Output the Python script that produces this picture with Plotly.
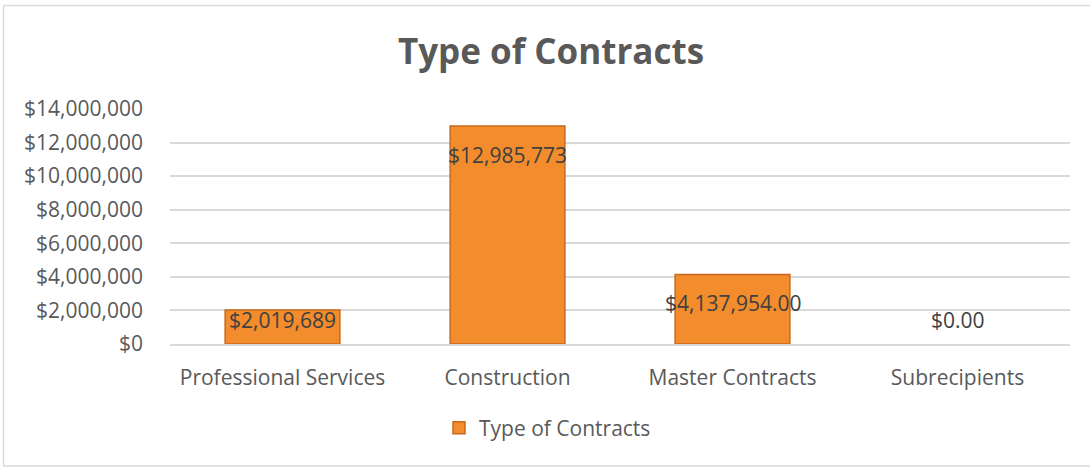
import plotly.graph_objects as go

categories = ["Professional Services", "Construction", "Master Contracts", "Subrecipients"]
values = [2019689, 12985773, 4137954, 0]
value_labels = ["$2,019,689", "$12,985,773", "$4,137,954.00", "$0.00"]
series_name = "Type of Contracts"
tick_vals = [0, 2000000, 4000000, 6000000, 8000000, 10000000, 12000000, 14000000]
tick_text = ["$0", "$2,000,000", "$4,000,000", "$6,000,000", "$8,000,000",
             "$10,000,000", "$12,000,000", "$14,000,000"]

FONT = "Open Sans"
W, H = 1090, 468
ML, MR, MT, MB = 170, 20, 109, 124
PW, PH = W - ML - MR, H - MT - MB

edge_colors = ["#C8691C" if v > 0 else "rgba(0,0,0,0)" for v in values]

fig = go.Figure()
fig.add_trace(go.Bar(
    x=categories, y=values, name=series_name,
    marker=dict(color="#F28C2C", line=dict(color=edge_colors, width=1.5)),
    showlegend=True,
))

label_shifts = [-10, -29, -28, 24]
for cat, v, lab, s in zip(categories, values, value_labels, label_shifts):
    fig.add_annotation(x=cat, y=v, text=lab, showarrow=False, yanchor="middle",
                       yshift=s, font=dict(family=FONT, size=21, color="#404040"))


def px_x(px):
    return (px - ML) / PW


def px_y(py):
    return (H - MB - py) / PH


# chart border: left, top and bottom edges only
border = dict(color="#D9D9D9", width=1.5)
fig.add_shape(type="line", xref="paper", yref="paper", layer="below",
              x0=px_x(3.5), x1=px_x(3.5), y0=px_y(466), y1=px_y(5.5), line=border)
fig.add_shape(type="line", xref="paper", yref="paper", layer="below",
              x0=px_x(3.5), x1=px_x(1095), y0=px_y(5.5), y1=px_y(5.5), line=border)
fig.add_shape(type="line", xref="paper", yref="paper", layer="below",
              x0=px_x(3.5), x1=px_x(1095), y0=px_y(466), y1=px_y(466), line=border)

fig.update_layout(
    width=W, height=H,
    margin=dict(l=ML, r=MR, t=MT, b=MB),
    paper_bgcolor="white", plot_bgcolor="white",
    bargap=0.49,
    title=dict(text="<b>Type of Contracts</b>", x=551 / W, xanchor="center",
               y=1 - 52 / H, yanchor="middle", yref="container",
               font=dict(family=FONT, size=35, color="#595959")),
    legend=dict(orientation="h", x=px_x(439), xanchor="left",
                y=px_y(428), yanchor="middle",
                font=dict(family=FONT, size=21, color="#595959")),
    xaxis=dict(showgrid=False, showline=True, linecolor="#D9D9D9", linewidth=1.5,
               tickfont=dict(family=FONT, size=21, color="#595959"),
               ticklabelstandoff=14),
    yaxis=dict(range=[0, 14000000], tickvals=tick_vals, ticktext=tick_text,
               showgrid=True, gridcolor="#D9D9D9", gridwidth=1.5, zeroline=False,
               tickfont=dict(family=FONT, size=21, color="#595959"),
               ticklabelstandoff=26),
)

fig.write_html("out.html", config={"displayModeBar": False},
               post_script="document.body.style.margin='0';")
